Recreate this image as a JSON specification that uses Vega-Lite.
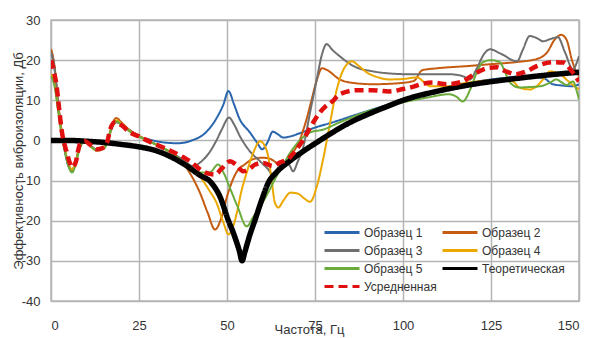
{
  "$schema": "https://vega.github.io/schema/vega-lite/v6.json",
  "width": 528,
  "height": 281,
  "autosize": "none",
  "padding": {"left": 51, "top": 20, "right": 16, "bottom": 37},
  "background": "white",
  "config": {
    "view": {"stroke": "#b5b5b5", "strokeWidth": 1.5},
    "font": "Liberation Sans, Arial, sans-serif"
  },
  "data": {"values": [
    {"series":"Образец 1","f":0,"v":22.5},{"series":"Образец 1","f":1,"v":18},{"series":"Образец 1","f":2,"v":9},{"series":"Образец 1","f":3,"v":2},{"series":"Образец 1","f":4,"v":-3},{"series":"Образец 1","f":5,"v":-6.5},{"series":"Образец 1","f":6,"v":-7.5},{"series":"Образец 1","f":7,"v":-5.5},{"series":"Образец 1","f":8,"v":-2},{"series":"Образец 1","f":9,"v":-0.4},{"series":"Образец 1","f":10,"v":0},{"series":"Образец 1","f":11.5,"v":-1.5},{"series":"Образец 1","f":13,"v":-2.3},{"series":"Образец 1","f":14.5,"v":-2},{"series":"Образец 1","f":16,"v":-0.5},{"series":"Образец 1","f":17.2,"v":3},{"series":"Образец 1","f":18.5,"v":4.8},{"series":"Образец 1","f":20,"v":4},{"series":"Образец 1","f":22,"v":2.8},{"series":"Образец 1","f":25,"v":1},{"series":"Образец 1","f":28,"v":0.2},{"series":"Образец 1","f":32,"v":-0.5},{"series":"Образец 1","f":36,"v":-0.7},{"series":"Образец 1","f":40,"v":0},{"series":"Образец 1","f":44,"v":2},{"series":"Образец 1","f":47,"v":5.5},{"series":"Образец 1","f":49,"v":9},{"series":"Образец 1","f":50.4,"v":12.3},{"series":"Образец 1","f":52,"v":9},{"series":"Образец 1","f":53.5,"v":5.5},{"series":"Образец 1","f":56.5,"v":2},{"series":"Образец 1","f":58.5,"v":-0.5},{"series":"Образец 1","f":60,"v":-2.2},{"series":"Образец 1","f":61.5,"v":-0.5},{"series":"Образец 1","f":63,"v":2.2},{"series":"Образец 1","f":64.5,"v":1.5},{"series":"Образец 1","f":66,"v":0.7},{"series":"Образец 1","f":68,"v":1},{"series":"Образец 1","f":70.7,"v":1.8},{"series":"Образец 1","f":75,"v":3.2},{"series":"Образец 1","f":80,"v":4.5},{"series":"Образец 1","f":87,"v":6.5},{"series":"Образец 1","f":95,"v":8.7},{"series":"Образец 1","f":101,"v":10.2},{"series":"Образец 1","f":108,"v":12},{"series":"Образец 1","f":115,"v":13.5},{"series":"Образец 1","f":122,"v":14.8},{"series":"Образец 1","f":128,"v":15.5},{"series":"Образец 1","f":135,"v":16},{"series":"Образец 1","f":140,"v":15.5},{"series":"Образец 1","f":142.5,"v":14},{"series":"Образец 1","f":145,"v":13.7},{"series":"Образец 1","f":148,"v":13.5},{"series":"Образец 1","f":150,"v":14},

    {"series":"Образец 2","f":0,"v":22.8},{"series":"Образец 2","f":1,"v":18.5},{"series":"Образец 2","f":2,"v":9.5},{"series":"Образец 2","f":3,"v":2.5},{"series":"Образец 2","f":4,"v":-2.5},{"series":"Образец 2","f":5,"v":-6},{"series":"Образец 2","f":6,"v":-7.3},{"series":"Образец 2","f":7,"v":-5.5},{"series":"Образец 2","f":8,"v":-2},{"series":"Образец 2","f":9,"v":-0.4},{"series":"Образец 2","f":10,"v":0},{"series":"Образец 2","f":11.5,"v":-1.5},{"series":"Образец 2","f":13,"v":-2.3},{"series":"Образец 2","f":14.5,"v":-2},{"series":"Образец 2","f":16,"v":-0.3},{"series":"Образец 2","f":17.2,"v":3.5},{"series":"Образец 2","f":18.5,"v":5.6},{"series":"Образец 2","f":20,"v":4.5},{"series":"Образец 2","f":22,"v":2.8},{"series":"Образец 2","f":25,"v":1.2},{"series":"Образец 2","f":28,"v":-0.2},{"series":"Образец 2","f":31,"v":-1.5},{"series":"Образец 2","f":34,"v":-3},{"series":"Образец 2","f":37,"v":-5},{"series":"Образец 2","f":39,"v":-7.5},{"series":"Образец 2","f":42.3,"v":-13},{"series":"Образец 2","f":44.5,"v":-18},{"series":"Образец 2","f":46.6,"v":-22.2},{"series":"Образец 2","f":48.5,"v":-19},{"series":"Образец 2","f":50,"v":-14},{"series":"Образец 2","f":51.7,"v":-9.7},{"series":"Образец 2","f":53,"v":-7.5},{"series":"Образец 2","f":55,"v":-6},{"series":"Образец 2","f":57,"v":-4.8},{"series":"Образец 2","f":60,"v":-4.3},{"series":"Образец 2","f":62,"v":-4.5},{"series":"Образец 2","f":64,"v":-5.5},{"series":"Образец 2","f":66,"v":-6.5},{"series":"Образец 2","f":68,"v":-4},{"series":"Образец 2","f":70.7,"v":0.2},{"series":"Образец 2","f":72.5,"v":5},{"series":"Образец 2","f":74,"v":10},{"series":"Образец 2","f":75.5,"v":15},{"series":"Образец 2","f":77,"v":18},{"series":"Образец 2","f":78.5,"v":17.5},{"series":"Образец 2","f":82,"v":15.2},{"series":"Образец 2","f":86,"v":14.3},{"series":"Образец 2","f":91.5,"v":14},{"series":"Образец 2","f":98,"v":14.2},{"series":"Образец 2","f":103,"v":14.8},{"series":"Образец 2","f":105.5,"v":17.5},{"series":"Образец 2","f":110,"v":18},{"series":"Образец 2","f":118,"v":18.5},{"series":"Образец 2","f":125,"v":19},{"series":"Образец 2","f":132,"v":19.5},{"series":"Образец 2","f":138,"v":20.3},{"series":"Образец 2","f":141,"v":22},{"series":"Образец 2","f":143,"v":25},{"series":"Образец 2","f":145,"v":26.3},{"series":"Образец 2","f":146.5,"v":25},{"series":"Образец 2","f":148,"v":20},{"series":"Образец 2","f":149,"v":17.5},{"series":"Образец 2","f":150,"v":16},

    {"series":"Образец 3","f":0,"v":22},{"series":"Образец 3","f":1,"v":18},{"series":"Образец 3","f":2,"v":9.5},{"series":"Образец 3","f":3,"v":2.5},{"series":"Образец 3","f":4,"v":-2.5},{"series":"Образец 3","f":5,"v":-6},{"series":"Образец 3","f":6,"v":-7.3},{"series":"Образец 3","f":7,"v":-5.5},{"series":"Образец 3","f":8,"v":-2},{"series":"Образец 3","f":9,"v":-0.4},{"series":"Образец 3","f":10,"v":0},{"series":"Образец 3","f":11.5,"v":-1.5},{"series":"Образец 3","f":13,"v":-2.3},{"series":"Образец 3","f":14.5,"v":-2},{"series":"Образец 3","f":16,"v":-0.5},{"series":"Образец 3","f":17.2,"v":3},{"series":"Образец 3","f":18.5,"v":4.5},{"series":"Образец 3","f":20,"v":4},{"series":"Образец 3","f":22,"v":2.5},{"series":"Образец 3","f":25,"v":1},{"series":"Образец 3","f":28,"v":-0.3},{"series":"Образец 3","f":31,"v":-1.5},{"series":"Образец 3","f":34,"v":-3},{"series":"Образец 3","f":37,"v":-4.5},{"series":"Образец 3","f":40.4,"v":-6.4},{"series":"Образец 3","f":43,"v":-5},{"series":"Образец 3","f":45,"v":-3},{"series":"Образец 3","f":47,"v":0},{"series":"Образец 3","f":48.5,"v":2.7},{"series":"Образец 3","f":50.6,"v":5.7},{"series":"Образец 3","f":52,"v":4},{"series":"Образец 3","f":53.7,"v":1},{"series":"Образец 3","f":56.5,"v":-2.7},{"series":"Образец 3","f":59.4,"v":-5.2},{"series":"Образец 3","f":61.5,"v":-7},{"series":"Образец 3","f":63,"v":-8.5},{"series":"Образец 3","f":64.5,"v":-8},{"series":"Образец 3","f":66,"v":-6.5},{"series":"Образец 3","f":67.5,"v":-6},{"series":"Образец 3","f":68.8,"v":-7.7},{"series":"Образец 3","f":70,"v":-5.5},{"series":"Образец 3","f":71.7,"v":-1.5},{"series":"Образец 3","f":73.6,"v":7},{"series":"Образец 3","f":75.5,"v":15.2},{"series":"Образец 3","f":77,"v":21.5},{"series":"Образец 3","f":78.3,"v":24},{"series":"Образец 3","f":80,"v":22.5},{"series":"Образец 3","f":82,"v":21},{"series":"Образец 3","f":86,"v":18.5},{"series":"Образец 3","f":91.5,"v":17.2},{"series":"Образец 3","f":96,"v":16.7},{"series":"Образец 3","f":101,"v":16.5},{"series":"Образец 3","f":107,"v":16.5},{"series":"Образец 3","f":113,"v":16.5},{"series":"Образец 3","f":117,"v":16},{"series":"Образец 3","f":119,"v":15.2},{"series":"Образец 3","f":121,"v":18},{"series":"Образец 3","f":123,"v":21.5},{"series":"Образец 3","f":124.7,"v":22.7},{"series":"Образец 3","f":128,"v":21.5},{"series":"Образец 3","f":132.4,"v":19.7},{"series":"Образец 3","f":134,"v":22.5},{"series":"Образец 3","f":136,"v":26},{"series":"Образец 3","f":138,"v":25.5},{"series":"Образец 3","f":139.8,"v":24.7},{"series":"Образец 3","f":142,"v":25.3},{"series":"Образец 3","f":144,"v":25.7},{"series":"Образец 3","f":146,"v":22},{"series":"Образец 3","f":148.3,"v":17.7},{"series":"Образец 3","f":149.2,"v":19},{"series":"Образец 3","f":150,"v":21},

    {"series":"Образец 4","f":0,"v":16.5},{"series":"Образец 4","f":1,"v":14},{"series":"Образец 4","f":2,"v":8},{"series":"Образец 4","f":3,"v":2},{"series":"Образец 4","f":4,"v":-2.5},{"series":"Образец 4","f":5,"v":-6},{"series":"Образец 4","f":6,"v":-7.2},{"series":"Образец 4","f":7,"v":-5.5},{"series":"Образец 4","f":8,"v":-2},{"series":"Образец 4","f":9,"v":-0.5},{"series":"Образец 4","f":10,"v":-0.2},{"series":"Образец 4","f":11.5,"v":-1.7},{"series":"Образец 4","f":13,"v":-2.5},{"series":"Образец 4","f":14.5,"v":-2.2},{"series":"Образец 4","f":16,"v":-0.5},{"series":"Образец 4","f":17.2,"v":3.2},{"series":"Образец 4","f":18.5,"v":5},{"series":"Образец 4","f":20,"v":4.2},{"series":"Образец 4","f":22,"v":2.6},{"series":"Образец 4","f":25,"v":1},{"series":"Образец 4","f":28,"v":-0.3},{"series":"Образец 4","f":31,"v":-1.5},{"series":"Образец 4","f":34,"v":-3},{"series":"Образец 4","f":37,"v":-5},{"series":"Образец 4","f":40,"v":-7},{"series":"Образец 4","f":42.3,"v":-9},{"series":"Образец 4","f":45,"v":-12.5},{"series":"Образец 4","f":47,"v":-15.5},{"series":"Образец 4","f":49,"v":-20.5},{"series":"Образец 4","f":50.4,"v":-23.4},{"series":"Образец 4","f":51.5,"v":-22},{"series":"Образец 4","f":52.8,"v":-18},{"series":"Образец 4","f":54,"v":-13},{"series":"Образец 4","f":55.6,"v":-8},{"series":"Образец 4","f":57.5,"v":-3},{"series":"Образец 4","f":59.4,"v":-0.2},{"series":"Образец 4","f":60.5,"v":-1},{"series":"Образец 4","f":61.7,"v":-4},{"series":"Образец 4","f":62.7,"v":-10},{"series":"Образец 4","f":63.6,"v":-15.5},{"series":"Образец 4","f":64.6,"v":-16.7},{"series":"Образец 4","f":66,"v":-15},{"series":"Образец 4","f":68,"v":-13},{"series":"Образец 4","f":70,"v":-13.2},{"series":"Образец 4","f":72,"v":-14.5},{"series":"Образец 4","f":73.6,"v":-15.3},{"series":"Образец 4","f":75.5,"v":-11.5},{"series":"Образец 4","f":77.3,"v":-4.7},{"series":"Образец 4","f":79,"v":3},{"series":"Образец 4","f":81,"v":12},{"series":"Образец 4","f":83,"v":17.5},{"series":"Образец 4","f":85.5,"v":19.7},{"series":"Образец 4","f":87.5,"v":18.5},{"series":"Образец 4","f":89.8,"v":16.9},{"series":"Образец 4","f":93,"v":15.7},{"series":"Образец 4","f":96,"v":15.2},{"series":"Образец 4","f":100,"v":15.3},{"series":"Образец 4","f":104,"v":15.7},{"series":"Образец 4","f":106,"v":14.5},{"series":"Образец 4","f":107.7,"v":13.5},{"series":"Образец 4","f":113,"v":13.5},{"series":"Образец 4","f":117,"v":14.2},{"series":"Образец 4","f":121,"v":14.7},{"series":"Образец 4","f":125,"v":15},{"series":"Образец 4","f":129.5,"v":15.2},{"series":"Образец 4","f":131.5,"v":14.5},{"series":"Образец 4","f":133,"v":13.2},{"series":"Образец 4","f":136,"v":12.7},{"series":"Образец 4","f":138,"v":13.5},{"series":"Образец 4","f":139.8,"v":15.2},{"series":"Образец 4","f":141.8,"v":17.2},{"series":"Образец 4","f":143,"v":17},{"series":"Образец 4","f":144.6,"v":16.5},{"series":"Образец 4","f":147.4,"v":14.4},{"series":"Образец 4","f":150,"v":12.7},

    {"series":"Образец 5","f":0,"v":16},{"series":"Образец 5","f":1,"v":13.5},{"series":"Образец 5","f":2,"v":7.5},{"series":"Образец 5","f":3,"v":1.5},{"series":"Образец 5","f":4,"v":-3},{"series":"Образец 5","f":5,"v":-6.5},{"series":"Образец 5","f":6,"v":-8},{"series":"Образец 5","f":7,"v":-6},{"series":"Образец 5","f":8,"v":-2.5},{"series":"Образец 5","f":9,"v":-0.6},{"series":"Образец 5","f":10,"v":-0.3},{"series":"Образец 5","f":11.5,"v":-1.7},{"series":"Образец 5","f":13,"v":-2.5},{"series":"Образец 5","f":14.5,"v":-2.3},{"series":"Образец 5","f":16,"v":-0.6},{"series":"Образец 5","f":17.2,"v":3},{"series":"Образец 5","f":18.5,"v":4.7},{"series":"Образец 5","f":20,"v":4},{"series":"Образец 5","f":22,"v":2.5},{"series":"Образец 5","f":25,"v":1},{"series":"Образец 5","f":28,"v":-0.3},{"series":"Образец 5","f":31,"v":-1.5},{"series":"Образец 5","f":34,"v":-3},{"series":"Образец 5","f":37,"v":-5},{"series":"Образец 5","f":40,"v":-6.8},{"series":"Образец 5","f":42.5,"v":-8},{"series":"Образец 5","f":45,"v":-8},{"series":"Образец 5","f":47.5,"v":-6},{"series":"Образец 5","f":49,"v":-8},{"series":"Образец 5","f":51,"v":-12.2},{"series":"Образец 5","f":53,"v":-16.5},{"series":"Образец 5","f":55.6,"v":-21.4},{"series":"Образец 5","f":57.5,"v":-19},{"series":"Образец 5","f":59.4,"v":-16.5},{"series":"Образец 5","f":62,"v":-12.5},{"series":"Образец 5","f":64,"v":-9},{"series":"Образец 5","f":66,"v":-6},{"series":"Образец 5","f":68,"v":-3},{"series":"Образец 5","f":70.7,"v":0},{"series":"Образец 5","f":73.6,"v":2},{"series":"Образец 5","f":77.3,"v":2.7},{"series":"Образец 5","f":82,"v":4.5},{"series":"Образец 5","f":91.5,"v":7.7},{"series":"Образец 5","f":101,"v":9.7},{"series":"Образец 5","f":107,"v":10.7},{"series":"Образец 5","f":113,"v":11.5},{"series":"Образец 5","f":115,"v":11},{"series":"Образец 5","f":117,"v":9.7},{"series":"Образец 5","f":119,"v":12.5},{"series":"Образец 5","f":121,"v":17},{"series":"Образец 5","f":122.7,"v":19.5},{"series":"Образец 5","f":125,"v":20},{"series":"Образец 5","f":127.5,"v":19.5},{"series":"Образец 5","f":129,"v":17},{"series":"Образец 5","f":130.4,"v":14.4},{"series":"Образец 5","f":133,"v":13.2},{"series":"Образец 5","f":136,"v":13.3},{"series":"Образец 5","f":138.9,"v":13.5},{"series":"Образец 5","f":141.8,"v":14.4},{"series":"Образец 5","f":143.5,"v":15.2},{"series":"Образец 5","f":145,"v":14.5},{"series":"Образец 5","f":146.5,"v":13.8},{"series":"Образец 5","f":148.3,"v":14.7},{"series":"Образец 5","f":149.3,"v":12.5},{"series":"Образец 5","f":150,"v":10.2},

    {"series":"Теоретическая","f":0,"v":0},{"series":"Теоретическая","f":5,"v":0},{"series":"Теоретическая","f":10,"v":-0.2},{"series":"Теоретическая","f":15,"v":-0.5},{"series":"Теоретическая","f":20,"v":-1},{"series":"Теоретическая","f":25,"v":-1.6},{"series":"Теоретическая","f":30,"v":-2.6},{"series":"Теоретическая","f":35,"v":-4.5},{"series":"Теоретическая","f":38,"v":-6},{"series":"Теоретическая","f":42,"v":-8.5},{"series":"Теоретическая","f":45.6,"v":-10.6},{"series":"Теоретическая","f":48,"v":-14},{"series":"Теоретическая","f":50.3,"v":-19.7},{"series":"Теоретическая","f":52,"v":-23.5},{"series":"Теоретическая","f":53.5,"v":-27.5},{"series":"Теоретическая","f":54.3,"v":-30},{"series":"Теоретическая","f":55,"v":-28},{"series":"Теоретическая","f":56.5,"v":-23.5},{"series":"Теоретическая","f":58,"v":-19.7},{"series":"Теоретическая","f":60,"v":-14.5},{"series":"Теоретическая","f":61.7,"v":-10.6},{"series":"Теоретическая","f":64,"v":-8},{"series":"Теоретическая","f":68,"v":-5},{"series":"Теоретическая","f":72,"v":-2.5},{"series":"Теоретическая","f":75.5,"v":-0.5},{"series":"Теоретическая","f":80,"v":2},{"series":"Теоретическая","f":85,"v":4.5},{"series":"Теоретическая","f":90,"v":6.5},{"series":"Теоретическая","f":95,"v":8.3},{"series":"Теоретическая","f":100,"v":10},{"series":"Теоретическая","f":110,"v":12.3},{"series":"Теоретическая","f":120,"v":14},{"series":"Теоретическая","f":130,"v":15.2},{"series":"Теоретическая","f":140,"v":16.2},{"series":"Теоретическая","f":150,"v":17},

    {"series":"Усредненная","f":0,"v":20},{"series":"Усредненная","f":1,"v":16.5},{"series":"Усредненная","f":1.6,"v":13.5},{"series":"Усредненная","f":2.3,"v":8},{"series":"Усредненная","f":3,"v":2.7},{"series":"Усредненная","f":4,"v":-1.5},{"series":"Усредненная","f":4.5,"v":-3},{"series":"Усредненная","f":5.3,"v":-5.5},{"series":"Усредненная","f":6,"v":-6.7},{"series":"Усредненная","f":7,"v":-5.5},{"series":"Усредненная","f":8.2,"v":-1},{"series":"Усредненная","f":9.7,"v":-0.2},{"series":"Усредненная","f":11,"v":-1},{"series":"Усредненная","f":13,"v":-2.2},{"series":"Усредненная","f":14.8,"v":-1.8},{"series":"Усредненная","f":16,"v":-0.3},{"series":"Усредненная","f":16.8,"v":2.7},{"series":"Усредненная","f":18.2,"v":4.5},{"series":"Усредненная","f":20,"v":3.8},{"series":"Усредненная","f":22.4,"v":2},{"series":"Усредненная","f":25,"v":1},{"series":"Усредненная","f":28,"v":-0.3},{"series":"Усредненная","f":33,"v":-2.2},{"series":"Усредненная","f":37.6,"v":-4.2},{"series":"Усредненная","f":40,"v":-5.5},{"series":"Усредненная","f":42.3,"v":-7.2},{"series":"Усредненная","f":44.5,"v":-8.2},{"series":"Усредненная","f":46.6,"v":-8.5},{"series":"Усредненная","f":48.5,"v":-7},{"series":"Усредненная","f":50.9,"v":-5.2},{"series":"Усредненная","f":52.5,"v":-6},{"series":"Усредненная","f":54.6,"v":-7.7},{"series":"Усредненная","f":56.5,"v":-7},{"series":"Усредненная","f":58,"v":-6},{"series":"Усредненная","f":60.3,"v":-5.6},{"series":"Усредненная","f":63,"v":-6.4},{"series":"Усредненная","f":65,"v":-5.5},{"series":"Усредненная","f":67.5,"v":-4.5},{"series":"Усредненная","f":69.5,"v":-2.5},{"series":"Усредненная","f":71.7,"v":0.2},{"series":"Усредненная","f":73.5,"v":3},{"series":"Усредненная","f":76.4,"v":7},{"series":"Усредненная","f":78,"v":8.5},{"series":"Усредненная","f":80,"v":9.8},{"series":"Усредненная","f":82,"v":11.5},{"series":"Усредненная","f":87,"v":12.5},{"series":"Усредненная","f":91,"v":12.5},{"series":"Усредненная","f":96,"v":12.2},{"series":"Усредненная","f":100,"v":12.8},{"series":"Усредненная","f":103,"v":13.4},{"series":"Усредненная","f":106,"v":14.2},{"series":"Усредненная","f":108.5,"v":14.4},{"series":"Усредненная","f":112.5,"v":14},{"series":"Усредненная","f":117,"v":14.7},{"series":"Усредненная","f":119,"v":15.8},{"series":"Усредненная","f":121,"v":16.9},{"series":"Усредненная","f":124,"v":18},{"series":"Усредненная","f":126.7,"v":18.2},{"series":"Усредненная","f":129,"v":17.3},{"series":"Усредненная","f":132,"v":16.5},{"series":"Усредненная","f":135,"v":17.2},{"series":"Усредненная","f":138,"v":18.5},{"series":"Усредненная","f":142.6,"v":19.5},{"series":"Усредненная","f":145.5,"v":19.4},{"series":"Усредненная","f":148,"v":17.2},{"series":"Усредненная","f":150,"v":14.7}
  ]},
  "mark": {"type": "line", "interpolate": "monotone", "clip": true},
  "encoding": {
    "x": {"field": "f", "type": "quantitative", "scale": {"domain": [0, 150], "nice": false},
      "axis": {"grid": true, "gridColor": "#b5b5b5", "gridWidth": 1.5, "domain": false, "ticks": false, "labelColor": "#333", "labelFontSize": 13, "titleFontSize": 13, "titleFontWeight": "normal", "titleColor": "#333", "values": [0, 25, 50, 75, 100, 125, 150], "labelPadding": 18, "title": "Частота, Гц", "titleX": 258, "titleY": 32, "titleBaseline": "alphabetic", "titleAlign": "center"}},
    "y": {"field": "v", "type": "quantitative", "scale": {"domain": [-40, 30], "nice": false},
      "axis": {"grid": true, "gridColor": "#b5b5b5", "gridWidth": 1.5, "domain": false, "ticks": false, "labelColor": "#333", "labelFontSize": 13, "titleFontSize": 13, "titleFontWeight": "normal", "titleColor": "#333", "values": [-40, -30, -20, -10, 0, 10, 20, 30], "labelPadding": 11, "labelExpr": "'' + datum.value", "title": "Эффективность виброизоляции, Дб", "titlePadding": -4}},
    "order": {"field": "f", "type": "quantitative"},
    "color": {"field": "series", "type": "nominal", "title": null,
      "scale": {"domain": ["Образец 1", "Образец 2", "Образец 3", "Образец 4", "Образец 5", "Теоретическая", "Усредненная"],
        "range": ["#2A66AD", "#C55A11", "#6f6f6f", "#EBA800", "#6AAB3C", "#000000", "#E01010"]},
      "legend": {"orient": "none", "legendX": 272, "legendY": 205, "direction": "horizontal", "columns": 2, "columnPadding": 4, "rowPadding": 3, "clipHeight": 15, "symbolType": "stroke", "symbolSize": 1225, "symbolStrokeWidth": 3, "labelFontSize": 12, "labelColor": "#333", "labelLimit": 200, "labelOffset": 3}},
    "strokeDash": {"field": "series", "type": "nominal", "title": null,
      "scale": {"domain": ["Образец 1", "Образец 2", "Образец 3", "Образец 4", "Образец 5", "Теоретическая", "Усредненная"],
        "range": [[1, 0], [1, 0], [1, 0], [1, 0], [1, 0], [1, 0], [9, 5]]}},
    "strokeWidth": {"condition": [{"test": "datum.series === 'Теоретическая'", "value": 5.5}, {"test": "datum.series === 'Усредненная'", "value": 4.5}], "value": 2}
  }
}
